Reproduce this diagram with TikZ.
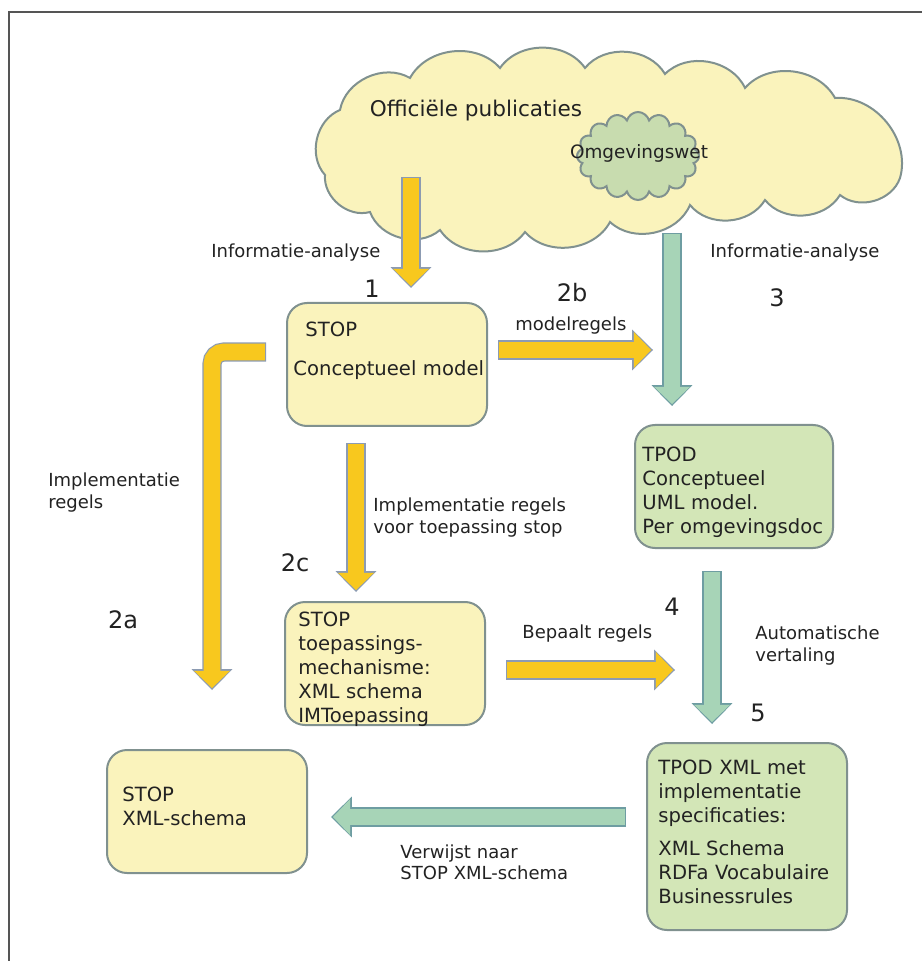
\documentclass[tikz,border=0pt]{standalone}
\usepackage{fontspec}
\setmainfont{DejaVu Sans}
\usetikzlibrary{arrows.meta, calc, shapes.symbols}

\definecolor{ink}{HTML}{222222}
\definecolor{yfill}{HTML}{FAF3BC}
\definecolor{gboxfill}{HTML}{D3E6B7}
\definecolor{gcloudfill}{HTML}{C8DCAF}
\definecolor{boxedge}{HTML}{80918F}
\definecolor{yarr}{HTML}{F8C81E}
\definecolor{yarredge}{HTML}{8C9BB2}
\definecolor{garr}{HTML}{A7D4B7}
\definecolor{garredge}{HTML}{6E9DA2}
\definecolor{framec}{HTML}{555555}

\begin{document}
\begin{tikzpicture}[x=0.5pt, y=-0.5pt,
  fat/.style 2 args={preaction={draw=#1, line width=9.6pt, shorten >=0pt, shorten <=0pt,
      -{Triangle[length=10.4pt, width=20.4pt, line width=0pt]}},
    draw=#2, line width=8.4pt, shorten >=1pt, shorten <=0.6pt,
    -{Triangle[length=8.6pt, width=18pt, line width=0pt]}},
  geel/.style={fat={yarredge}{yarr}},
  groen/.style={fat={garredge}{garr}},
  puf/.style={bend left=55},
  blok/.style={draw=boxedge, line width=1pt, rounded corners=10pt,
    minimum width=100pt, minimum height=61.5pt, inner sep=0pt},
  tekst/.style={font=\fontsize{9.8}{12}\selectfont, text=ink, text width=100pt,
    align=left, inner sep=0pt, anchor=base west},
  lbl/.style={font=\fontsize{9}{11}\selectfont, text=ink, text width=110pt,
    align=left, inner sep=0pt, anchor=base west},
  num/.style={font=\fontsize{12}{14}\selectfont, text=ink, inner sep=0pt, anchor=base},
]
  \useasboundingbox (0,0) rectangle (922,961);
  % kader
  \draw[framec, line width=1pt] (9,961) -- (9,12) -- (922,12);
  % grote wolk
  \draw[draw=boxedge, fill=yfill, line width=1pt]
    (325,175) to[puf] (340,110) to[puf] (410,78) to[puf] (500,68) to[puf] (585,68)
    to[puf] (665,74) to[puf] (745,88) to[puf] (835,98) to[puf] (900,178)
    to[puf] (840,195) to[puf] (765,200) to[puf] (690,205) to[puf] (610,222)
    to[puf] (525,232) to[puf] (440,230) to[puf] (370,212) to[puf] (325,175) -- cycle;
  % kleine wolk
  \node[cloud, cloud puffs=16, cloud ignores aspect, minimum width=61pt, minimum height=44pt,
    draw=boxedge, fill=gcloudfill, line width=1pt] (omg) at (638,156) {};
  \node[font=\fontsize{10.8}{13}\selectfont, text=ink, inner sep=0pt, anchor=base] (pubtxt)
    at (476,117) {Officiële publicaties};
  \node[font=\fontsize{9.2}{11}\selectfont, text=ink, inner sep=0pt, anchor=base] (omgtxt)
    at (639,159) {Omgevingswet};
  % pijlen
  \coordinate (a1) at (411,177);
  \coordinate (g3) at (672,233);
  \coordinate (c2) at (356,443);
  \coordinate (b2) at (653,350);
  \coordinate (a2) at (212,690);
  \coordinate (bp) at (675,670);
  % blokken
  \node[blok, fill=yfill] (concept) at (387,364.5) {};
  \node[blok, fill=gboxfill, minimum width=99pt] (tpod) at (734,486.5) {};
  \node[blok, fill=yfill] (toep) at (385,663.5) {};
  \node[blok, fill=yfill] (xsd) at (207,811.5) {};
  \node[blok, fill=gboxfill, minimum height=93.5pt] (tpodxml) at (747,836.5) {};
  \draw[geel] (a1) -- ($(a1 |- concept.north)+(0,-14)$);
  \draw[geel] ($(concept.east)+(10,-14.5)$) -- (b2);
  \draw[geel] (c2) -- ($(c2 |- toep.north)+(0,-9)$);
  \draw[geel, rounded corners=6pt] ($(concept.west)+(-20,-12.5)$) -| (a2);
  \draw[geel] ($(toep.east)+(20,6.5)$) -- (bp);
  \draw[groen] (g3) -- ($(g3 |- tpod.north)+(0,-18)$);
  \draw[groen] ($(tpod.south)+(-22,22)$) -- ($(tpodxml.north)+(-35,-18)$);
  \draw[groen] ($(tpodxml.west)+(-20,-19.5)$) -- ($(xsd.east)+(23,5.5)$);
  % teksten in blokken
  \node[tekst] (concepttxt) at (293,336.5) {\hspace*{6pt}STOP\\[7.75pt]Conceptueel model};
  \node[tekst] (tpodtxt) at (642,461.5) {TPOD\\Conceptueel\\UML model.\\Per omgevingsdoc};
  \node[tekst] (toeptxt) at (298,626.5) {STOP\\toepassings-\\mechanisme:\\XML schema\\IMToepassing};
  \node[tekst] (xsdtxt) at (122,801.5) {STOP\\XML-schema};
  \node[tekst] (tpodxmltxt) at (658,774.5)
    {TPOD XML met\\implementatie\\specificaties:\\[4.5pt]XML Schema\\RDFa Vocabulaire\\Businessrules};
  % labels
  \node[lbl] (inf1) at (211,258) {Informatie-analyse};
  \node[lbl] (inf3) at (710,258) {Informatie-analyse};
  \node[lbl] (modelr) at (515,331) {modelregels};
  \node[lbl] (impla) at (48,486) {Implementatie\\regels};
  \node[lbl] (implc) at (373,511) {Implementatie regels\\voor toepassing stop};
  \node[lbl] (bep) at (522,638) {Bepaalt regels};
  \node[lbl] (auto) at (755,639) {Automatische\\vertaling};
  \node[lbl, font=\fontsize{9}{10.5}\selectfont] (verw) at (400,858) {Verwijst naar\\STOP XML-schema};
  % nummers
  \node[num] (n1) at (372,297.6) {1};
  \node[num] (n2b) at (572,301.6) {2b};
  \node[num] (n3) at (777,306.6) {3};
  \node[num] (n2a) at (123,628.6) {2a};
  \node[num] (n2c) at (295,571.6) {2c};
  \node[num] (n4) at (672,615.6) {4};
  \node[num] (n5) at (758,721.6) {5};
\end{tikzpicture}
\end{document}
